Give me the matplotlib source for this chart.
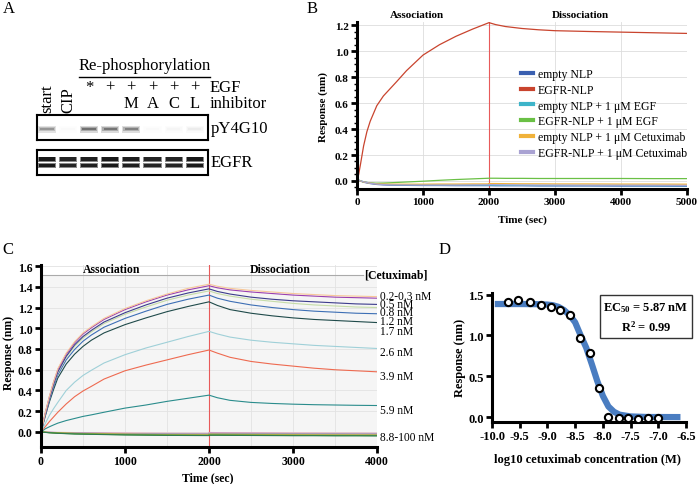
import matplotlib
matplotlib.use('Agg')
import matplotlib.pyplot as plt
import numpy as np
from matplotlib.lines import Line2D
from matplotlib.ticker import MultipleLocator

plt.rcParams['font.family'] = ['Liberation Serif', 'DejaVu Serif']
plt.rcParams['axes.unicode_minus'] = False
plt.rcParams['mathtext.default'] = 'regular'

W, H = 699, 485

# ---------------- Panel A data (western blot) ----------------
lane_names_rot = ['start', 'CIP']
egf_row = ['*', '+', '+', '+', '+', '+']
inhibitor_row = ['M', 'A', 'C', 'L']
py4g10_intensity = [0.55, 0.03, 0.75, 0.72, 0.66, 0.03, 0.05, 0.10]
egfr_intensity = [0.95, 0.90, 0.92, 0.95, 0.93, 0.90, 0.90, 0.95]

# ---------------- Panel B data ----------------
b_t_assoc = [0, 50, 100, 200, 300, 400, 500, 750, 1000, 1250, 1500, 1750, 2000]
b_t_dissoc = [2000, 2100, 2250, 2500, 2750, 3000, 3500, 4000, 4500, 5000]
b_t_assoc_fine = [0, 25, 50, 100, 150, 200, 300, 400, 500, 600, 750, 1000, 1250, 1500, 1750, 2000]
b_labels = ['empty NLP', 'EGFR-NLP', 'empty NLP + 1 μM EGF', 'EGFR-NLP + 1 μM EGF',
            'empty NLP + 1 μM Cetuximab', 'EGFR-NLP + 1 μM Cetuximab']
b_colors = ['#3a5fb0', '#c9442e', '#3db4c9', '#6ac045', '#f0b23a', '#a9a2d2']
b_empty_a = [0.01, 0.0, -0.01, -0.02, -0.027, -0.03, -0.032, -0.034, -0.035, -0.035, -0.036, -0.036, -0.036]
b_empty_d = [-0.036, -0.037, -0.037, -0.037, -0.038, -0.038, -0.038, -0.039, -0.039, -0.04]
b_egfr_a = [0.0, 0.05, 0.12, 0.27, 0.38, 0.46, 0.58, 0.655, 0.71, 0.765, 0.85, 0.97,
            1.05, 1.115, 1.17, 1.22]
b_egfr_d = [1.22, 1.205, 1.19, 1.175, 1.165, 1.158, 1.152, 1.147, 1.142, 1.137]
b_empty_egf_a = [0.01, 0.002, -0.006, -0.016, -0.022, -0.026, -0.028, -0.03, -0.031, -0.032, -0.032, -0.032, -0.033]
b_empty_egf_d = [-0.033, -0.033, -0.034, -0.034, -0.035, -0.035, -0.035, -0.035, -0.036, -0.036]
b_egfr_egf_a = [0.01, 0.0, -0.008, -0.016, -0.017, -0.016, -0.014, -0.008, -0.002, 0.005, 0.011, 0.016, 0.021]
b_egfr_egf_d = [0.021, 0.021, 0.02, 0.02, 0.019, 0.019, 0.019, 0.019, 0.018, 0.018]
b_empty_cet_a = [0.01, 0.0, -0.008, -0.017, -0.022, -0.024, -0.025, -0.025, -0.025, -0.024, -0.024, -0.023, -0.023]
b_empty_cet_d = [-0.02, -0.02, -0.021, -0.022, -0.022, -0.023, -0.023, -0.024, -0.024, -0.025]
b_egfr_cet_a = [0.01, 0.001, -0.007, -0.018, -0.024, -0.028, -0.03, -0.031, -0.032, -0.032, -0.032, -0.031, -0.03]
b_egfr_cet_d = [-0.028, -0.029, -0.03, -0.031, -0.032, -0.032, -0.033, -0.033, -0.033, -0.034]

# ---------------- Panel C data ----------------
c_t_assoc = [0, 25, 50, 100, 150, 200, 300, 400, 500, 600, 750, 1000, 1250, 1500, 1750, 2000]
c_t_dissoc = [2000, 2100, 2250, 2500, 2750, 3000, 3250, 3500, 3750, 4000]
c_t_flat = [0, 100, 200, 400, 600, 1000, 1500, 2000]
c_conc_labels = ['0.2-0.3 nM', '0.5 nM', '0.8 nM', '1.2 nM', '1.7 nM', '2.6 nM', '3.9 nM', '5.9 nM', '8.8-100 nM']
c_orange_a = [0, 0.09, 0.185, 0.345, 0.485, 0.61, 0.76, 0.87, 0.955, 1.015, 1.095, 1.19, 1.265, 1.33, 1.385, 1.425]
c_orange_d = [1.425, 1.405, 1.385, 1.365, 1.35, 1.335, 1.325, 1.315, 1.31, 1.305]
c_purple_a = [0, 0.09, 0.18, 0.34, 0.48, 0.60, 0.75, 0.86, 0.945, 1.005, 1.085, 1.18, 1.255, 1.32, 1.37, 1.41]
c_purple_d = [1.41, 1.39, 1.37, 1.35, 1.335, 1.32, 1.31, 1.30, 1.295, 1.29]
c_indigo_a = [0, 0.085, 0.17, 0.325, 0.46, 0.58, 0.73, 0.84, 0.92, 0.98, 1.06, 1.15, 1.225, 1.29, 1.34, 1.38]
c_indigo_d = [1.38, 1.355, 1.33, 1.30, 1.28, 1.265, 1.255, 1.245, 1.235, 1.23]
c_lgreen_a = [0, 0.085, 0.17, 0.32, 0.455, 0.57, 0.72, 0.825, 0.905, 0.965, 1.045, 1.135, 1.205, 1.27, 1.32, 1.36]
c_lgreen_d = [1.36, 1.335, 1.31, 1.28, 1.26, 1.24, 1.225, 1.215, 1.205, 1.20]
c_blue_a = [0, 0.08, 0.16, 0.305, 0.435, 0.55, 0.695, 0.795, 0.875, 0.935, 1.01, 1.095, 1.165, 1.23, 1.28, 1.32]
c_blue_d = [1.32, 1.29, 1.26, 1.225, 1.20, 1.18, 1.165, 1.155, 1.145, 1.14]
c_dark_a = [0, 0.075, 0.15, 0.29, 0.41, 0.52, 0.655, 0.75, 0.825, 0.885, 0.955, 1.035, 1.10, 1.16, 1.21, 1.255]
c_dark_d = [1.255, 1.22, 1.18, 1.145, 1.12, 1.10, 1.085, 1.075, 1.065, 1.055]
c_cyan_a = [0, 0.04, 0.08, 0.16, 0.225, 0.285, 0.40, 0.48, 0.545, 0.595, 0.665, 0.745, 0.81, 0.865, 0.92, 0.97]
c_cyan_d = [0.97, 0.945, 0.915, 0.885, 0.865, 0.85, 0.835, 0.825, 0.815, 0.805]
c_red_a = [0, 0.025, 0.05, 0.10, 0.145, 0.19, 0.27, 0.34, 0.395, 0.44, 0.51, 0.59, 0.645, 0.695, 0.745, 0.79]
c_red_d = [0.79, 0.76, 0.72, 0.68, 0.655, 0.635, 0.615, 0.60, 0.59, 0.58]
c_teal_a = [0, 0.015, 0.03, 0.05, 0.068, 0.085, 0.11, 0.13, 0.15, 0.165, 0.19, 0.23, 0.26, 0.295, 0.325, 0.355]
c_teal_d = [0.355, 0.33, 0.305, 0.285, 0.275, 0.268, 0.263, 0.26, 0.257, 0.255]
c_f1_a = [0, -0.007, -0.012, -0.018, -0.021, -0.027, -0.031, -0.033]
c_f1_d = [-0.03, -0.03, -0.031, -0.032, -0.033, -0.034, -0.034, -0.035, -0.035, -0.036]
c_f2_a = [0, -0.006, -0.01, -0.015, -0.018, -0.024, -0.028, -0.03]
c_f2_d = [-0.026, -0.026, -0.027, -0.028, -0.029, -0.03, -0.031, -0.031, -0.032, -0.032]
c_f3_a = [0, -0.005, -0.009, -0.014, -0.017, -0.022, -0.026, -0.028]
c_f3_d = [-0.022, -0.023, -0.024, -0.025, -0.026, -0.027, -0.028, -0.029, -0.029, -0.03]
c_f4_a = [0, -0.004, -0.007, -0.011, -0.013, -0.017, -0.02, -0.022]
c_f4_d = [-0.015, -0.016, -0.017, -0.018, -0.019, -0.02, -0.021, -0.021, -0.022, -0.022]
c_f5_a = [0, -0.002, -0.004, -0.006, -0.008, -0.01, -0.012, -0.013]
c_f5_d = [-0.005, -0.006, -0.007, -0.008, -0.009, -0.01, -0.01, -0.011, -0.011, -0.012]
c_f6_a = [0, -0.008, -0.013, -0.02, -0.023, -0.029, -0.033, -0.035]
c_f6_d = [-0.032, -0.032, -0.033, -0.034, -0.035, -0.036, -0.036, -0.037, -0.037, -0.038]
c_f7_a = [0, -0.003, -0.006, -0.01, -0.012, -0.015, -0.017, -0.019]
c_f7_d = [-0.01, -0.011, -0.012, -0.013, -0.014, -0.015, -0.016, -0.016, -0.017, -0.017]

# ---------------- Panel D data ----------------
d_log_conc = [-9.71, -9.53, -9.32, -9.11, -8.93, -8.78, -8.60, -8.42, -8.24, -8.07,
              -7.90, -7.71, -7.54, -7.36, -7.18, -7.00]
d_response = [1.41, 1.43, 1.41, 1.37, 1.35, 1.31, 1.25, 0.97, 0.79, 0.36,
              0.0, -0.01, -0.015, -0.02, -0.015, -0.015]
d_fit_x = [-9.95, -9.5, -9.2, -9.0, -8.9, -8.8, -8.7, -8.6, -8.5, -8.4, -8.3, -8.2,
           -8.1, -8.0, -7.9, -7.8, -7.7, -7.5, -7.2, -6.6]
d_fit_y = [1.385, 1.385, 1.383, 1.378, 1.37, 1.35, 1.31, 1.25, 1.16, 1.00, 0.85, 0.65,
           0.44, 0.26, 0.13, 0.065, 0.03, 0.008, 0.001, 0.0]

# ------------------------------------------------------------
fig = plt.figure(figsize=(6.99, 4.85), dpi=100)


def fx(px):
    return px / W


def fy(py):
    return 1 - py / H


def axes_px(l, t, r, b):
    return fig.add_axes([fx(l), fy(b), (r - l) / W, (b - t) / H])


def style_axes(ax, lw=2.2):
    for s in ['top', 'right']:
        ax.spines[s].set_visible(False)
    for s in ['left', 'bottom']:
        ax.spines[s].set_linewidth(lw)
    ax.tick_params(which='major', direction='out', length=4, width=2, pad=2)
    ax.tick_params(which='minor', direction='out', length=2.5, width=1)


RED_LINE = '#e85a5a'

# ================= Panel A =================
fig.text(fx(3), fy(1), 'A', ha='left', va='top', fontsize=12)
axp = axes_px(37, 116, 208, 141)
axe = axes_px(37, 151, 208, 176)
lanes = np.arange(len(py4g10_intensity))
for ax in (axp, axe):
    ax.set_xlim(-0.47, 7.63)
    ax.set_ylim(0, 1)
    ax.set_xticks([])
    ax.set_yticks([])
    for s in ax.spines.values():
        s.set_linewidth(1.5)
axp.bar(lanes, 0.28, bottom=0.30, width=0.86,
        color=[str(1 - 0.2 * v) for v in py4g10_intensity], lw=0)
axp.bar(lanes, 0.18, bottom=0.35, width=0.76,
        color=[str(1 - 0.45 * v) for v in py4g10_intensity], lw=0)
axp.bar(lanes, 0.09, bottom=0.395, width=0.64,
        color=[str(1 - 0.75 * v) for v in py4g10_intensity], lw=0)
for bottom in (0.27, 0.52):
    axe.bar(lanes, 0.22, bottom=bottom, width=0.86,
            color=[str(1 - 0.5 * v) for v in egfr_intensity], lw=0)
    axe.bar(lanes, 0.15, bottom=bottom + 0.035, width=0.76,
            color=[str(1 - 0.95 * v) for v in egfr_intensity], lw=0)

tr = axp.get_xaxis_transform()
for i, s in enumerate(lane_names_rot):
    axp.text(i, (141 - 113) / 25, s, transform=tr, rotation=90, ha='center',
             va='bottom', fontsize=12)
for i, s in enumerate(egf_row):
    axp.text(i + 2, (141 - 88) / 25, s, transform=tr, ha='center', va='center', fontsize=12)
for i, s in enumerate(inhibitor_row):
    axp.text(i + 4, (141 - 104) / 25, s, transform=tr, ha='center', va='center', fontsize=12)
fig.text(fx(144.5), fy(66), 'Re-phosphorylation', ha='center', va='center', fontsize=12)
fig.add_artist(Line2D([fx(79), fx(210)], [fy(78), fy(78)], color='black', lw=1.0))
fig.text(fx(210), fy(88), 'EGF', ha='left', va='center', fontsize=12)
fig.text(fx(210), fy(104), 'inhibitor', ha='left', va='center', fontsize=12)
fig.text(fx(211), fy(129), 'pY4G10', ha='left', va='center', fontsize=12)
fig.text(fx(211), fy(163), 'EGFR', ha='left', va='center', fontsize=12)

# ================= Panel B =================
fig.text(fx(307), fy(1), 'B', ha='left', va='top', fontsize=12)
axb = axes_px(357, 23, 687, 190)
style_axes(axb)
axb.set_xlim(0, 5000)
axb.set_ylim(-0.062, 1.225)
axb.grid(True, color='#dddddd', lw=0.6)
axb.set_axisbelow(True)
axb.axvline(2000, color=RED_LINE, lw=0.8, zorder=1.5)
b_series = [(b_t_assoc, b_empty_a, b_empty_d), (b_t_assoc_fine, b_egfr_a, b_egfr_d),
            (b_t_assoc, b_empty_egf_a, b_empty_egf_d), (b_t_assoc, b_egfr_egf_a, b_egfr_egf_d),
            (b_t_assoc, b_empty_cet_a, b_empty_cet_d), (b_t_assoc, b_egfr_cet_a, b_egfr_cet_d)]
handles = []
for (ta, va, vd), col, lab in zip(b_series, b_colors, b_labels):
    axb.plot(ta + b_t_dissoc, va + vd, color=col, lw=0.9, zorder=2)
    handles.append(Line2D([], [], color=col, lw=3, label=lab))
bt = [0, 1000, 2000, 3000, 4000, 5000]
axb.set_xticks(bt)
axb.set_xticklabels([str(v) for v in bt], fontweight='bold', fontsize=8)
byt = [0.0, 0.2, 0.4, 0.6, 0.8, 1.0, 1.2]
axb.set_yticks(byt)
axb.set_yticklabels(['%.1f' % v for v in byt], fontweight='bold', fontsize=8)
axb.yaxis.set_minor_locator(MultipleLocator(0.05))
leg = fig.legend(handles=handles, loc='upper left', bbox_to_anchor=(fx(521), fy(69)),
                 bbox_transform=fig.transFigure, frameon=False, fontsize=8.5,
                 handlelength=1.0, handletextpad=0.4, labelspacing=0.32,
                 borderpad=0, borderaxespad=0)
fig.text(fx(417), fy(16), 'Association', ha='center', va='center', fontweight='bold', fontsize=8)
fig.text(fx(580), fy(16), 'Dissociation', ha='center', va='center', fontweight='bold', fontsize=8)
fig.text(fx(323), fy(107), 'Response (nm)', rotation=90, ha='center', va='center',
         fontweight='bold', fontsize=8)
fig.text(fx(522), fy(220), 'Time (sec)', ha='center', va='center', fontweight='bold', fontsize=8)

# ================= Panel C =================
fig.text(fx(2), fy(242), 'C', ha='left', va='top', fontsize=12)
axc = axes_px(41, 266, 377, 448)
style_axes(axc)
axc.set_xlim(0, 4000)
axc.set_ylim(-0.145, 1.61)
axc.axhspan(-0.145, 1.516, color='#f5f5f5', lw=0, zorder=0)
axc.xaxis.set_minor_locator(MultipleLocator(500))
axc.grid(True, which='both', axis='x', color='#e2e2e2', lw=0.6)
axc.grid(True, which='major', axis='y', color='#e2e2e2', lw=0.6)
axc.set_axisbelow(True)
axc.tick_params(which='minor', length=0)
axc.axhline(1.516, xmin=0, xmax=3833 / 4000, color='#aaaaaa', lw=0.8, zorder=1)
axc.axvline(2000, color=RED_LINE, lw=0.8, zorder=1.5)
c_flat = [
    (c_f5_a, c_f5_d, '#e7a3b5'), (c_f7_a, c_f7_d, '#b79bd0'), (c_f4_a, c_f4_d, '#9a9a9a'),
    (c_f3_a, c_f3_d, '#d8c040'), (c_f2_a, c_f2_d, '#9aa03a'), (c_f1_a, c_f1_d, '#5aa846'),
    (c_f6_a, c_f6_d, '#2f7a4f'),
]
c_main = [
    (c_teal_a, c_teal_d, '#2a8c8c'), (c_red_a, c_red_d, '#ee6a50'),
    (c_cyan_a, c_cyan_d, '#9fd0d8'), (c_dark_a, c_dark_d, '#1f4a4a'),
    (c_blue_a, c_blue_d, '#3d6fb5'), (c_lgreen_a, c_lgreen_d, '#c5dca8'),
    (c_indigo_a, c_indigo_d, '#3c3c8c'), (c_purple_a, c_purple_d, '#9a3fb0'),
    (c_orange_a, c_orange_d, '#f7c89a'),
]
for va, vd, col in c_flat:
    axc.plot(c_t_flat + c_t_dissoc, va + vd, color=col, lw=0.8, zorder=2)
for va, vd, col in c_main:
    axc.plot(c_t_assoc + c_t_dissoc, va + vd, color=col, lw=0.8, zorder=2)
ct = [0, 1000, 2000, 3000, 4000]
axc.set_xticks(ct)
axc.set_xticklabels([str(v) for v in ct], fontweight='bold', fontsize=8.5)
cyt = [0.0, 0.2, 0.4, 0.6, 0.8, 1.0, 1.2, 1.4, 1.6]
axc.set_yticks(cyt)
axc.set_yticklabels(['%.1f' % v for v in cyt], fontweight='bold', fontsize=8.5)
fig.text(fx(112), fy(270), 'Association', ha='center', va='center', fontweight='bold', fontsize=8.5)
fig.text(fx(280), fy(270), 'Dissociation', ha='center', va='center', fontweight='bold', fontsize=8.5)
fig.text(fx(364), fy(276), '[Cetuximab]', ha='left', va='center', fontweight='bold', fontsize=8.5)
c_label_py = [297, 305, 313, 322, 332, 353, 377, 411, 438]
for lab, py in zip(c_conc_labels, c_label_py):
    fig.text(fx(380), fy(py), lab, ha='left', va='center', fontsize=8.3, linespacing=1)
fig.text(fx(9), fy(353), 'Response (nm)', rotation=90, ha='center', va='center',
         fontweight='bold', fontsize=8.5)
fig.text(fx(207.5), fy(478), 'Time (sec)', ha='center', va='center', fontweight='bold', fontsize=8.5)

# ================= Panel D =================
fig.text(fx(439), fy(242), 'D', ha='left', va='top', fontsize=12)
axd = axes_px(492, 294, 686, 423)
style_axes(axd)
axd.set_xlim(-10, -6.5)
axd.set_ylim(-0.06, 1.52)
axd.plot(d_fit_x, d_fit_y, color='#4a7dc1', lw=4.5, solid_capstyle='butt',
         solid_joinstyle='round', zorder=2)
axd.plot(d_log_conc, d_response, 'o', mfc='white', mec='black', ms=5.2, mew=1.5, zorder=3)
dxt = [-10.0, -9.5, -9.0, -8.5, -8.0, -7.5, -7.0, -6.5]
axd.set_xticks(dxt)
axd.set_xticklabels(['%.1f' % v for v in dxt], fontweight='bold', fontsize=9)
dyt = [0.0, 0.5, 1.0, 1.5]
axd.set_yticks(dyt)
axd.set_yticklabels(['%.1f' % v for v in dyt], fontweight='bold', fontsize=9)
fig.text(fx(646), fy(318), 'EC$_{50}$ = 5.87 nM\nR$^2$ = 0.99', ha='center', va='center',
         fontsize=9, fontweight='bold', linespacing=1.5,
         bbox=dict(boxstyle='square,pad=0.3', fc='white', ec='#333333', lw=1))
fig.text(fx(460), fy(358), 'Response (nm)', rotation=90, ha='center', va='center',
         fontweight='bold', fontsize=9)
fig.text(fx(587), fy(460), 'log10 cetuximab concentration (M)', ha='center', va='center',
         fontweight='bold', fontsize=9)

fig.savefig('out.png', dpi=100)
